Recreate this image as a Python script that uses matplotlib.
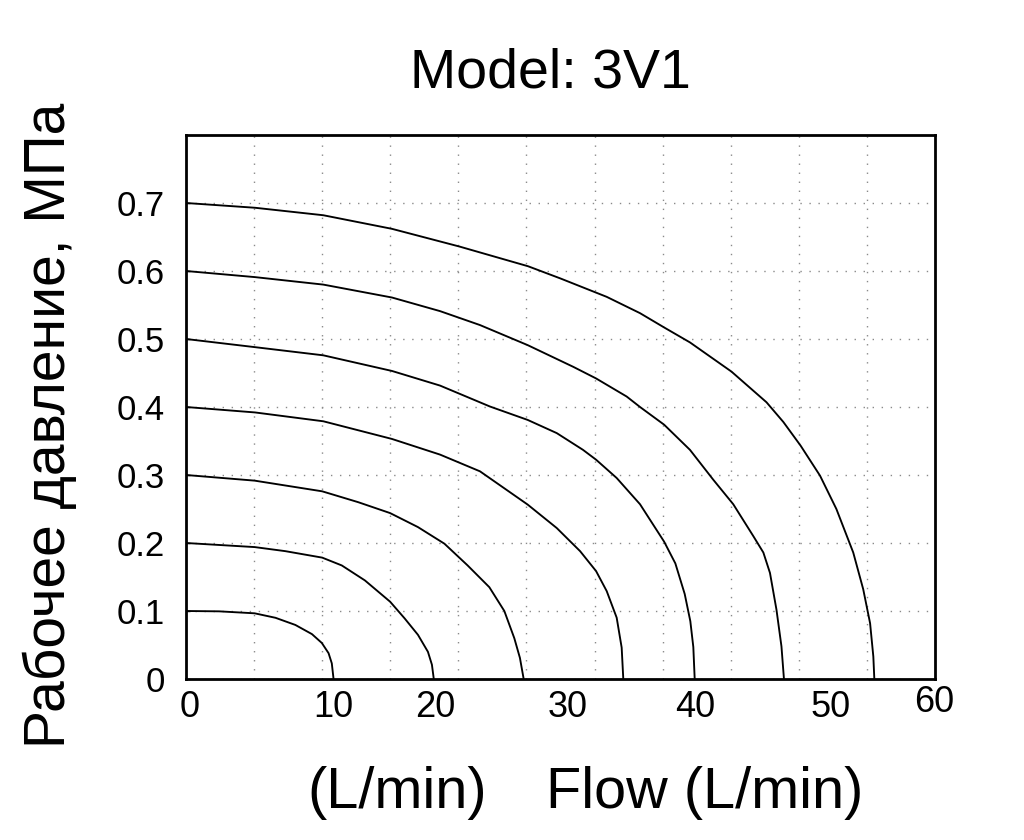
import matplotlib
matplotlib.use("Agg")
import matplotlib.pyplot as plt
import numpy as np

plt.rcParams['font.family'] = ['Liberation Sans', 'DejaVu Sans']

# Flow (L/min) vs working pressure (MPa) curves, one per inlet pressure
flow_01 = [0.0, 2.65, 5.5, 7.17, 8.76, 10.09, 10.88, 11.42, 11.68, 11.82]
pres_01 = [0.100, 0.0995, 0.0966, 0.090, 0.0795, 0.066, 0.053, 0.038, 0.023, 0.0]

flow_02 = [0.0, 5.5, 7.96, 10.91, 12.48, 14.33, 16.35, 17.52, 18.58, 19.38, 19.7, 19.85]
pres_02 = [0.200, 0.194, 0.188, 0.1785, 0.167, 0.145, 0.1137, 0.089, 0.065, 0.040, 0.021, 0.0]

flow_03 = [0.0, 5.5, 10.91, 13.8, 16.35, 18.58, 20.7, 22.56, 24.3, 25.5, 26.3, 26.75, 27.05]
pres_03 = [0.300, 0.2917, 0.276, 0.260, 0.244, 0.2234, 0.199, 0.167, 0.135, 0.100, 0.060, 0.031, 0.0]

flow_04 = [0.0, 5.53, 11.0, 16.5, 20.35, 23.55, 27.37, 29.7, 31.57, 32.85, 33.7, 34.5, 34.9, 35.03]
pres_04 = [0.400, 0.392, 0.379, 0.353, 0.330, 0.3054, 0.2565, 0.222, 0.188, 0.1587, 0.1293, 0.0902, 0.0462, 0.0]

flow_05 = [0.0, 5.53, 11.0, 16.5, 20.35, 24.35, 27.37, 29.7, 31.8, 32.85, 34.5, 36.37, 38.3,
           39.2, 39.95, 40.4, 40.64, 40.75]
pres_05 = [0.500, 0.488, 0.476, 0.453, 0.4315, 0.4007, 0.381, 0.3616, 0.337, 0.3225, 0.2956, 0.257, 0.202,
           0.170, 0.125, 0.085, 0.047, 0.0]

flow_06 = [0.0, 5.53, 11.0, 16.5, 20.35, 23.55, 27.37, 31.03, 32.85, 35.3, 36.37, 38.3, 40.37,
           42.24, 43.84, 45.45, 46.25, 46.78, 47.3, 47.7, 47.9]
pres_06 = [0.600, 0.591, 0.580, 0.561, 0.541, 0.5205, 0.491, 0.459, 0.442, 0.4154, 0.400, 0.374, 0.337,
           0.293, 0.257, 0.210, 0.186, 0.156, 0.102, 0.048, 0.0]

flow_07 = [0.0, 5.53, 11.0, 16.5, 21.9, 27.4, 30.0, 33.7, 36.37, 38.3, 40.37, 43.7, 46.5, 47.85,
           49.24, 50.79, 52.1, 53.45, 54.25, 54.8, 55.06, 55.14]
pres_07 = [0.700, 0.693, 0.682, 0.662, 0.636, 0.607, 0.589, 0.562, 0.538, 0.517, 0.495, 0.452, 0.407, 0.378,
           0.343, 0.299, 0.250, 0.186, 0.132, 0.082, 0.033, 0.0]

curves_flow = [flow_01, flow_02, flow_03, flow_04, flow_05, flow_06, flow_07]
curves_pres = [pres_01, pres_02, pres_03, pres_04, pres_05, pres_06, pres_07]

# Axis labelling as printed on the chart
xtick_pos = [0.32, 11.8, 19.95, 30.6, 40.8, 51.65]
xtick_labels = ["0", "10", "20", "30", "40", "50"]
xend_pos = 59.9
xend_label = "60"
ytick_vals = [0.0, 0.1, 0.2, 0.3, 0.4, 0.5, 0.6, 0.7]
ytick_labels = ["0", "0.1", "0.2", "0.3", "0.4", "0.5", "0.6", "0.7"]
x_grid_count = 11
title_text = "Model: 3V1"
ylabel_text = "Рабочее давление, МПа"
xlabel_left = "(L/min)"
xlabel_right = "Flow (L/min)"

W, H = 1024, 840
fig = plt.figure(figsize=(W / 100, H / 100), dpi=100)
ax = fig.add_axes([186 / W, 1 - 679 / H, (935 - 186) / W, (679 - 135) / H])

for fx, py in zip(curves_flow, curves_pres):
    ax.plot(fx, py, color='black', lw=1.35, solid_joinstyle='round')

ax.set_xlim(0, 60)
ax.set_ylim(0, 0.8)

# x: labels (no marks) and dotted grid on minor ticks
ax.set_xticks(xtick_pos)
ax.set_xticklabels(xtick_labels, fontsize=26)
grid_x = np.arange(1, x_grid_count) * 60 / x_grid_count
ax.set_xticks(grid_x, minor=True)
ax.tick_params(axis='x', which='both', length=0, pad=8)
ax.grid(which='minor', axis='x', color='#8a8a8a', lw=1.0, linestyle=(0, (1, 5.5)))

# the last x label sits slightly higher in the original
ax.annotate(xend_label, xy=(xend_pos, 0), xycoords=('data', 'axes fraction'),
            xytext=(0, -4), textcoords='offset points', ha='center', va='top',
            fontsize=26, annotation_clip=False)

ax.set_yticks(ytick_vals)
ax.set_yticklabels(ytick_labels, fontsize=25)
ax.tick_params(axis='y', which='major', direction='in', length=3, width=1, pad=15)
ax.grid(which='major', axis='y', color='#8a8a8a', lw=1.0, linestyle=(0, (1, 5.5)))

for s in ax.spines.values():
    s.set_linewidth(2.0)
    s.set_color('black')

fig.text(550 / W, 1 - 74 / H, title_text, fontsize=40, ha='center', va='center')
fig.text(397 / W, 1 - 793 / H, xlabel_left, fontsize=41.5, ha='center', va='center')
fig.text(705 / W, 1 - 793 / H, xlabel_right, fontsize=41.5, ha='center', va='center')
fig.text(50 / W, 1 - 425 / H, ylabel_text, fontsize=41, ha='center', va='center',
         rotation=90)

fig.savefig("out.png", dpi=100)
